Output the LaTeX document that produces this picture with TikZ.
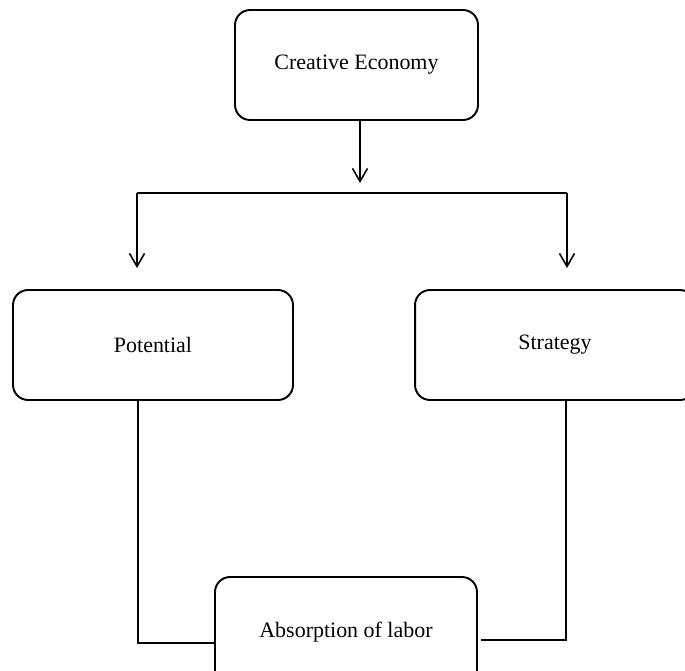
\documentclass[tikz,border=0pt]{standalone}
\usepackage{fontspec}
\setmainfont{Liberation Serif}
\usetikzlibrary{arrows.meta,positioning}
\tikzset{box/.style={draw, line width=1.1pt, rounded corners=0.3cm, minimum height=2.2cm, font=\fontsize{12.5}{15}\selectfont},
	link/.style={line width=0.7pt},
	arr/.style={line width=0.9pt, -{Straight Barb[length=0.26cm,width=0.3cm]}}}

\begin{document}
\begin{tikzpicture}[x=0.02cm,y=-0.02cm]
	
	\useasboundingbox (0,0) rectangle (685,671);
	\clip (0,0) rectangle (685,671);
	
	\node[box, minimum width=4.86cm] (eco) at (356.5,65) {Creative Economy};
	\node[box, minimum width=5.6cm] (pot) at (153,345) {Potential};
	\node[box, minimum width=5.6cm] (str) at (555,345) {Strategy};
	\node[box, minimum width=5.24cm] (abs) at (346,632) {Absorption of labor};
	
	\coordinate (top) at (360,120);
	\coordinate (split) at (360,183);
	\coordinate (hl) at (137,193);
	\coordinate (hr) at (567,193);
	\coordinate (tl) at (137,268);
	\coordinate (tr) at (567,268);
	
	\coordinate (pl) at (138,643);
	\coordinate (pr) at (566,640);
	
	\draw[arr] (top) -- (split);
	\draw[link] (hl) -- (hr);
	\draw[arr] (hl) -- (tl);
	\draw[arr] (hr) -- (tr);
	
	\draw[link] (pot.south -| pl) -- (pl) -- (pl -| abs.west);
	\draw[link] (str.south -| pr) -- (pr) -- ([xshift=0.06cm]pr -| abs.east);
\end{tikzpicture}
\end{document}
